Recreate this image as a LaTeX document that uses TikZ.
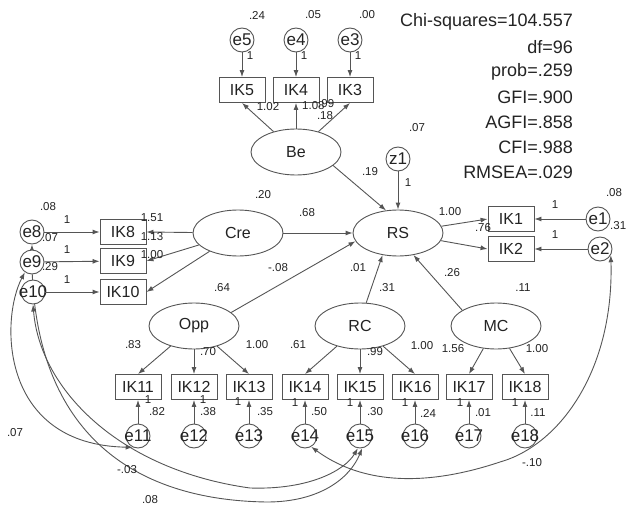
\documentclass[tikz,border=0pt]{standalone}
\usepackage{fontspec}
\setmainfont{Liberation Sans}
\usetikzlibrary{shapes.geometric,arrows.meta}
\newcommand\zw[1]{\makebox[0pt]{#1}}
\newcommand\myfs[1]{\fontsize{#1}{#1}\selectfont}
\definecolor{ln}{RGB}{85,85,85}
\definecolor{tx}{RGB}{35,35,35}
\pgfdeclarelayer{bg}
\pgfsetlayers{bg,main}
\begin{document}
\begin{tikzpicture}[x=1pt,y=-1pt,
  lat/.style={draw=ln, ellipse, fill=white, minimum width=90pt, minimum height=46pt, inner sep=0pt, font=\myfs{16}, text=tx, line width=0.9pt},
  obs/.style={draw=ln, rectangle, fill=white, minimum width=46pt, minimum height=25pt, inner sep=0pt, font=\myfs{16}, text=tx, line width=0.9pt},
  err/.style={draw=ln, circle, fill=white, minimum size=24pt, inner sep=0pt, font=\myfs{17}, text=tx, line width=0.9pt},
  num/.style={font=\myfs{11.5}, inner sep=0pt, text=tx},
  fitx/.style={font=\myfs{18}, anchor=east, inner sep=0pt, text=tx},
  arr/.style={draw=ln, line width=0.9pt, -{Latex[length=7pt,width=5pt]}},
  cov/.style={draw=ln, line width=0.9pt, {Latex[length=7pt,width=5pt]}-{Latex[length=7pt,width=5pt]}},
]
\useasboundingbox (0,0) rectangle (626,508);

% top
\node[err] (e5) at (242,40) {e5};
\node[err] (e4) at (296,40) {e4};
\node[err] (e3) at (350,40) {e3};
\node[obs] (IK5) at (242,90) {IK5};
\node[obs] (IK4) at (296,90) {IK4};
\node[obs] (IK3) at (350,90) {IK3};
\node[lat] (Be) at (296,152) {Be};
\node[err] (z1) at (398,159) {z1};
\node[lat] (RS) at (398,233) {RS};
\node[lat] (Cre) at (238,233) {Cre};
\node[obs] (IK1) at (511,219) {IK1};
\node[obs] (IK2) at (511,249) {IK2};
\node[err] (e1) at (598,219) {e1};
\node[err] (e2) at (600,249) {e2};
% left
\node[err] (e8) at (32,232) {e8};
\node[err] (e9) at (32,262) {e9};
\node[err] (e10) at (33,292) {\zw{e10}};
\node[obs] (IK8) at (123,232) {IK8};
\node[obs] (IK9) at (123,261) {IK9};
\node[obs] (IK10) at (123,292) {IK10};
% lower latents
\node[lat] (Opp) at (194,326) {Opp};
\node[lat] (RC) at (360,326) {RC};
\node[lat] (MC) at (496,326) {MC};
% bottom indicators
\foreach \n/\x in {11/138,12/194,13/249,14/305,15/360,16/415,17/469,18/525}{
  \node[obs] (IK\n) at (\x,387) {IK\n};
}
\foreach \n/\x in {11/138,12/194,13/249,14/305,15/360,16/415,17/469}{
  \node[err] (e\n) at (\x,436) {\zw{e\n}};
}
\node[err, fill=none] (e18) at (525,436) {\zw{e18}};

% arrows
\draw[arr] (e5) -- (IK5);
\draw[arr] (e4) -- (IK4);
\draw[arr] (e3) -- (IK3);
\draw[arr] (Be) -- (IK5.south);
\draw[arr] (Be) -- (IK4.south);
\draw[arr] (Be) -- (IK3.south);
\draw[arr] (Be.-20) -- (RS.118);
\draw[arr] (z1) -- (RS);
\draw[arr] (Cre) -- (RS);
\draw[arr] (Opp.20) -- (RS.191);
\draw[arr] (RC.75) -- (RS.-125);
\draw[arr] (MC.155) -- (RS.-55);
\draw[arr] (RS) -- (IK1.west);
\draw[arr] (RS) -- (IK2.west);
\draw[arr] (e1) -- (IK1);
\draw[arr] (e2) -- (IK2);
\draw[arr] (e8) -- (IK8);
\draw[arr] (e9) -- (IK9);
\draw[arr] (e10) -- (IK10);
\draw[arr] (Cre) -- (IK8.east);
\draw[arr] (Cre) -- (IK9.east);
\draw[arr] (Cre) -- (IK10.east);
\draw[arr] (Opp) -- (IK11.north);
\draw[arr] (Opp) -- (IK12.north);
\draw[arr] (Opp) -- (IK13.north);
\draw[arr] (RC) -- (IK14.north);
\draw[arr] (RC) -- (IK15.north);
\draw[arr] (RC) -- (IK16.north);
\draw[arr] (MC) -- (IK17.north);
\draw[arr] (MC) -- (IK18.north);
\foreach \n in {11,...,18}{ \draw[arr] (e\n) -- (IK\n); }

% covariances
\begin{pgfonlayer}{bg}
\draw[cov] (e9.-125) .. controls (0,320) and (0,445) .. (e11.-115);
\draw[cov] (e10.south) .. controls (40,390) and (120,470) .. (250,488) .. controls (310,490) and (345,470) .. (e15.-100);
\draw[cov] (e8.south) .. controls (30,420) and (120,500) .. (267,502) .. controls (320,502) and (350,478) .. (e15.-80);
\draw[cov] (e2.-30) .. controls (614,370) and (560,445) .. (500,462) .. controls (440,482) and (370,490) .. (e14.-60);
\end{pgfonlayer}

% numbers
\node[num] at (257,15) {.24};
\node[num] at (313,15) {.05};
\node[num] at (367,15) {.00};
\node[num] at (250,56) {1};
\node[num] at (304,56) {1};
\node[num] at (358,56) {1};
\node[num] at (268,107) {1.02};
\node[num, anchor=west] at (302,106) {1.08};
\node[num, anchor=west] at (318,104) {.99};
\node[num] at (325,116) {.18};
\node[num] at (263,195) {.20};
\node[num] at (417,128) {.07};
\node[num] at (370,172) {.19};
\node[num] at (408,183) {1};
\node[num] at (307,213) {.68};
\node[num] at (450,212) {1.00};
\node[num] at (483,228) {.76};
\node[num] at (555,205) {1};
\node[num] at (555,235) {1};
\node[num] at (614,193) {.08};
\node[num, anchor=west] at (610,226) {.31};
\node[num] at (48,207) {.08};
\node[num] at (67,220) {1};
\node[num] at (50,238) {.07};
\node[num] at (67,250) {1};
\node[num] at (50,267) {.29};
\node[num] at (67,280) {1};
\node[num] at (152,218) {1.51};
\node[num] at (152,237) {1.13};
\node[num] at (152,255) {1.00};
\node[num] at (278,268) {-.08};
\node[num] at (358,268) {.01};
\node[num] at (387,288) {.31};
\node[num] at (452,273) {.26};
\node[num] at (222,288) {.64};
\node[num] at (523,288) {.11};
\node[num] at (133,345) {.83};
\node[num] at (208,352) {.70};
\node[num] at (257,345) {1.00};
\node[num] at (298,345) {.61};
\node[num] at (375,352) {.99};
\node[num] at (422,346) {1.00};
\node[num] at (453,349) {1.56};
\node[num] at (537,349) {1.00};
% bottom error numbers
\node[num] at (148,400) {1};
\node[num] at (157,412) {.82};
\node[num] at (203,400) {1};
\node[num] at (208,412) {.38};
\node[num] at (238,402) {1};
\node[num] at (265,412) {.35};
\node[num] at (295,403) {1};
\node[num] at (319,412) {.50};
\node[num] at (350,403) {1};
\node[num] at (375,412) {.30};
\node[num] at (405,403) {1};
\node[num] at (428,413) {.24};
\node[num] at (460,403) {1};
\node[num] at (483,413) {.01};
\node[num] at (515,403) {1};
\node[num] at (538,413) {.11};
% covariance labels
\node[num] at (15,433) {.07};
\node[num] at (127,470) {-.03};
\node[num] at (150,500) {.08};
\node[num] at (532,463) {-.10};

% fit indices
\node[fitx] at (573,22) {Chi-squares=104.557};
\node[fitx] at (573,47) {df=96};
\node[fitx] at (573,72) {prob=.259};
\node[fitx] at (573,97) {GFI=.900};
\node[fitx] at (573,122) {AGFI=.858};
\node[fitx] at (573,147) {CFI=.988};
\node[fitx] at (573,172) {RMSEA=.029};
\end{tikzpicture}
\end{document}
